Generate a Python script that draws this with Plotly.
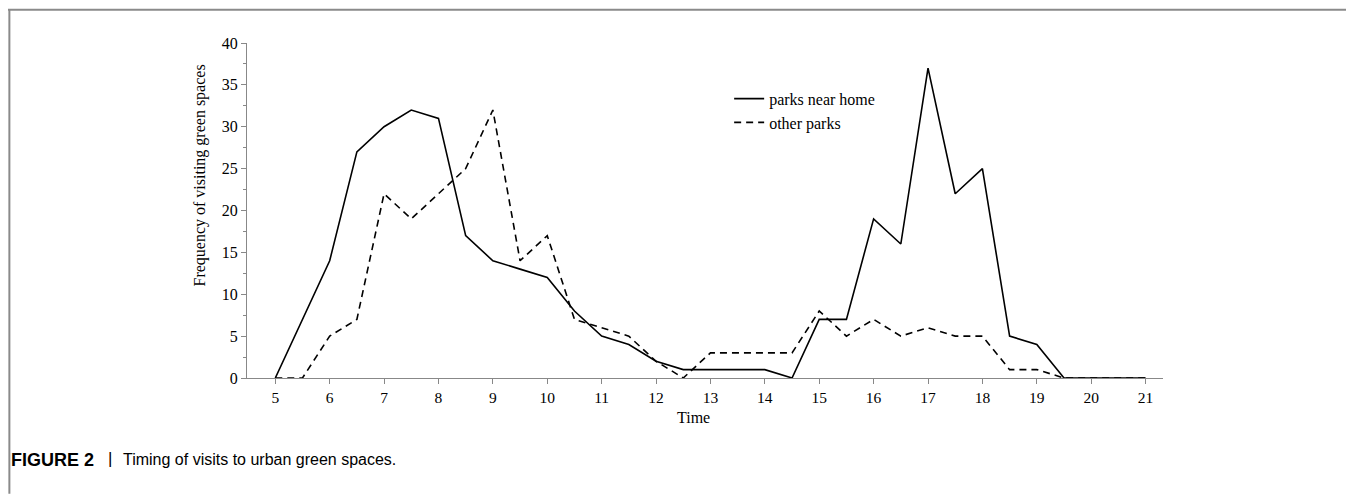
import plotly.graph_objects as go

time = [5, 5.5, 6, 6.5, 7, 7.5, 8, 8.5, 9, 9.5, 10, 10.5, 11, 11.5, 12, 12.5, 13,
        13.5, 14, 14.5, 15, 15.5, 16, 16.5, 17, 17.5, 18, 18.5, 19, 19.5, 20, 20.5, 21]
parks_near_home = [0, 7, 14, 27, 30, 32, 31, 17, 14, 13, 12, 8, 5, 4, 2, 1, 1,
                   1, 1, 0, 7, 7, 19, 16, 37, 22, 25, 5, 4, 0, 0, 0, 0]
other_parks = [0, 0, 5, 7, 22, 19, 22, 25, 32, 14, 17, 7, 6, 5, 2, 0, 3,
               3, 3, 3, 8, 5, 7, 5, 6, 5, 5, 1, 1, 0, 0, 0, 0]
x_ticks = list(range(5, 22))
y_ticks = [0, 5, 10, 15, 20, 25, 30, 35, 40]

# page has an 8px body margin; work in screen pixels and subtract it
O = 8
W, H = 1354 - O, 494 - O
L, R, T, B = 246.7 - O, 1163.0 - O, 43.3 - O, 378.3 - O

fig = go.Figure()
fig.add_trace(go.Scatter(x=time, y=parks_near_home, mode="lines", name="parks near home",
                         line=dict(color="black", width=1.6)))
fig.add_trace(go.Scatter(x=time, y=other_parks, mode="lines", name="other parks",
                         line=dict(color="black", width=1.6, dash="7px,5px")))

def px_x(p):
    return (p - O - L) / (R - L)

def px_y(p):
    return (B - (p - O)) / (B - T)

serif = "Liberation Serif, Times New Roman, serif"
sans = "Liberation Sans, Arial, sans-serif"
fig.update_layout(
    width=W, height=H,
    margin=dict(l=L, r=W - R, t=T, b=H - B),
    plot_bgcolor="white", paper_bgcolor="white",
    font=dict(family=serif, size=15, color="black"),
    showlegend=True,
    legend=dict(x=px_x(729), y=px_y(82), xanchor="left", yanchor="top",
                bgcolor="rgba(0,0,0,0)", font=dict(family=serif, size=16),
                tracegroupgap=0, itemwidth=30),
    xaxis=dict(range=[4.48, 21.32], tickvals=x_ticks, ticks="outside", ticklen=5,
               tickcolor="#888", showline=True, linecolor="#888", linewidth=1,
               showgrid=False, zeroline=False, tickfont=dict(family=serif, size=15.5)),
    yaxis=dict(range=[0, 40], tickvals=y_ticks, ticks="outside", ticklen=5,
               tickcolor="#888", showline=True, linecolor="#888", linewidth=1,
               showgrid=False, zeroline=False, tickfont=dict(family=serif, size=16),
               minor=dict(dtick=2.5, ticks="outside", ticklen=3, tickcolor="#888")),
    annotations=[
        dict(text="Frequency of visiting green spaces", x=px_x(200), y=px_y(175.5),
             xref="paper", yref="paper", xanchor="center", yanchor="middle",
             textangle=-90, showarrow=False, font=dict(family=serif, size=16)),
        dict(text="Time", x=px_x(693), y=px_y(418), xref="paper", yref="paper",
             xanchor="center", yanchor="middle",
             showarrow=False, font=dict(family=serif, size=16)),
        dict(text="<b>FIGURE 2</b>", x=px_x(9), y=px_y(460), xref="paper", yref="paper",
             xanchor="left", yanchor="middle", showarrow=False,
             font=dict(family=sans, size=18)),
        dict(text="|", x=px_x(110), y=px_y(459), xref="paper", yref="paper",
             xanchor="center", yanchor="middle", showarrow=False,
             font=dict(family=sans, size=17)),
        dict(text="Timing of visits to urban green spaces.", x=px_x(121), y=px_y(460),
             xref="paper", yref="paper", xanchor="left", yanchor="middle",
             showarrow=False, font=dict(family=sans, size=16)),
    ],
    shapes=[
        dict(type="line", xref="paper", yref="paper", x0=px_x(7), x1=px_x(1354),
             y0=px_y(10), y1=px_y(10), line=dict(color="#8a8a8a", width=2)),
        dict(type="line", xref="paper", yref="paper", x0=px_x(9), x1=px_x(9),
             y0=px_y(10), y1=px_y(494), line=dict(color="#8a8a8a", width=2)),
        dict(type="line", xref="paper", yref="paper", x0=px_x(1353), x1=px_x(1353),
             y0=px_y(10), y1=px_y(494), line=dict(color="#dddddd", width=1)),
    ],
)

fig.write_html("out.html")
